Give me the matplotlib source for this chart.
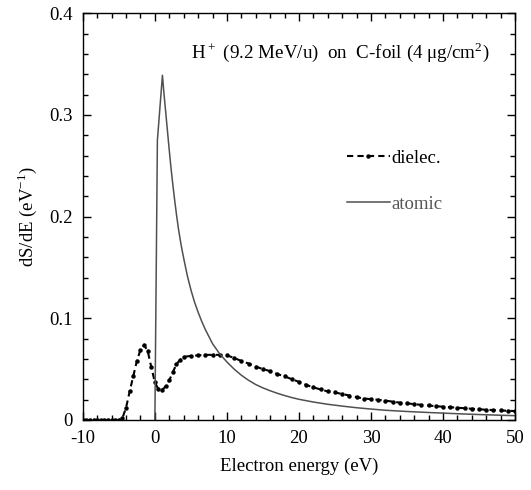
import matplotlib
matplotlib.use("Agg")
import matplotlib.pyplot as plt
from matplotlib.ticker import MultipleLocator, FixedFormatter, FixedLocator

plt.rcParams['font.family'] = ['Liberation Serif', 'DejaVu Serif']
plt.rcParams['mathtext.fontset'] = 'custom'
plt.rcParams['mathtext.rm'] = 'Liberation Serif'

# Dielectric model
diel_E = [-10, -9.5, -9, -8.5, -8, -7.5, -7, -6.5, -6, -5.5, -5,
          -4.5, -4, -3.5, -3, -2.5, -2, -1.5, -1, -0.5, 0, 0.5, 1, 1.5, 2, 2.5, 3, 3.5, 4,
          5, 6, 7, 8, 9, 10, 11, 12, 13, 14, 15, 16, 17, 18, 19, 20,
          21, 22, 23, 24, 25, 26, 27, 28, 29, 30, 31, 32, 33, 34, 35,
          36, 37, 38, 39, 40, 41, 42, 43, 44, 45, 46, 47, 48, 49, 50]
diel_S = [0, 0, 0, 0, 0, 0, 0, 0, 0, 0, 0,
          0.002, 0.012, 0.028, 0.043, 0.058, 0.069, 0.0735, 0.068, 0.052, 0.037, 0.030, 0.0295, 0.033, 0.039, 0.047, 0.055, 0.059, 0.062,
          0.063, 0.0635, 0.064, 0.064, 0.064, 0.0635, 0.061, 0.058, 0.0555, 0.0525, 0.050, 0.048, 0.045, 0.043, 0.040, 0.0375,
          0.0345, 0.032, 0.030, 0.028, 0.027, 0.0255, 0.024, 0.0225, 0.021, 0.0205, 0.0198, 0.019, 0.018, 0.017, 0.0163,
          0.0155, 0.0148, 0.0142, 0.0135, 0.013, 0.0125, 0.012, 0.0115, 0.011, 0.0105, 0.010, 0.0097, 0.0093, 0.009, 0.0087]

# Atomic model
atom_E = [0, 0.35, 1.05, 1.25, 1.5, 1.75, 2, 2.25, 2.5, 2.75, 3, 3.25, 3.5, 3.75, 4, 4.5, 5, 5.5, 6, 6.5, 7, 7.5, 8, 9, 10, 11, 12, 13, 14, 15,
          16, 17, 18, 19, 20, 22, 24, 26, 28, 30, 32, 35, 38, 40, 42, 45, 48, 50]
atom_S = [0, 0.275, 0.339, 0.322, 0.303, 0.284, 0.265, 0.247, 0.231, 0.216, 0.202, 0.189, 0.178, 0.168, 0.159, 0.142, 0.128, 0.116, 0.106, 0.097, 0.089, 0.082, 0.075, 0.065, 0.057, 0.050, 0.044, 0.039, 0.0348, 0.0315,
          0.0287, 0.0262, 0.024, 0.022, 0.0203, 0.0176, 0.0154, 0.0136, 0.012, 0.0107, 0.0095, 0.0083, 0.0073, 0.0067, 0.0061, 0.0053, 0.0046, 0.0042]

x_ticks = [-10, 0, 10, 20, 30, 40, 50]
x_labels = ['-10', '0', '10', '20', '30', '40', '50']
y_ticks = [0, 0.1, 0.2, 0.3, 0.4]
y_labels = ['0', '0.1', '0.2', '0.3', '0.4']

fig = plt.figure(figsize=(5.31, 4.90), dpi=100)
ax = fig.add_axes([0.156, 0.143, 0.814, 0.830])

ax.plot(diel_E, diel_S, color='black', linestyle=(0, (3, 2)), linewidth=1.5,
        marker='o', markersize=2.2, label='dielec.')
ax.plot(atom_E, atom_S, color='#505050', linestyle='-', linewidth=1.1, label='atomic')

ax.set_xlim(-10, 50)
ax.set_ylim(0, 0.4)
ax.xaxis.set_major_locator(FixedLocator(x_ticks))
ax.xaxis.set_major_formatter(FixedFormatter(x_labels))
ax.yaxis.set_major_locator(FixedLocator(y_ticks))
ax.yaxis.set_major_formatter(FixedFormatter(y_labels))
ax.xaxis.set_minor_locator(MultipleLocator(2))
ax.yaxis.set_minor_locator(MultipleLocator(0.02))
ax.tick_params(which='both', direction='in', top=True, right=True, labelsize=13.5, width=1)
ax.tick_params(which='major', length=6, pad=7)
ax.tick_params(which='minor', length=3.5)
for s in ax.spines.values():
    s.set_linewidth(1.0)

ax.set_xlabel('Electron energy (eV)', fontsize=13.5, labelpad=8)
ax.set_ylabel(r'dS/dE (eV$^{-1}$)', fontsize=13.5, labelpad=8)

ax.text(0.942, 0.905, r'H$^+$ (9.2 MeV/u)  on  C-foil (4 $\mathrm{\mu}$g/cm$^2$)',
        transform=ax.transAxes, ha='right', va='center', fontsize=13.7)

leg = ax.legend(loc='upper left', bbox_to_anchor=(0.571, 0.706), frameon=False,
                fontsize=13.5, handlelength=2.3, handletextpad=0.1, labelspacing=1.55,
                labelcolor=['black', '#555555'])

fig.savefig('out.png', dpi=100)
